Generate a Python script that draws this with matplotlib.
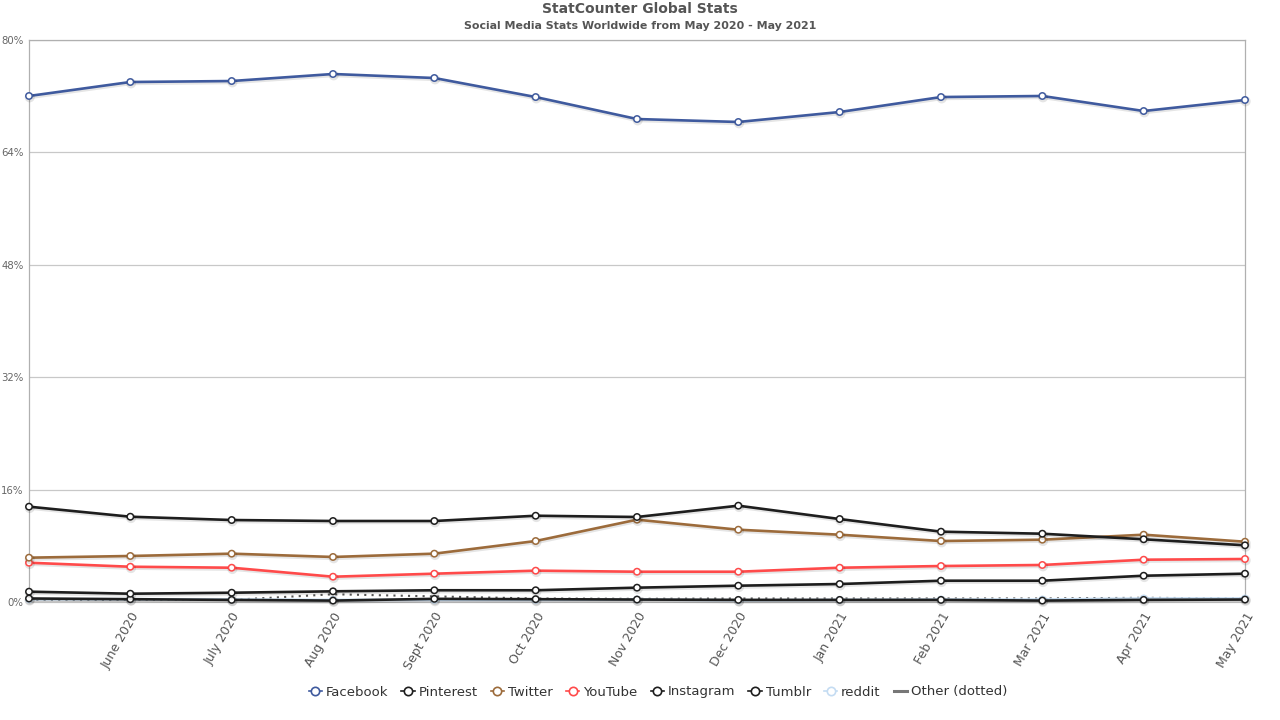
import matplotlib
matplotlib.use("Agg")
import matplotlib.pyplot as plt
import matplotlib.patheffects as pe
from matplotlib.ticker import FixedLocator

plt.rcParams["font.family"] = ["DejaVu Sans"]

months = ["May 2020", "June 2020", "July 2020", "Aug 2020", "Sept 2020", "Oct 2020",
          "Nov 2020", "Dec 2020", "Jan 2021", "Feb 2021", "Mar 2021", "Apr 2021", "May 2021"]

facebook = [72.03, 74.02, 74.16, 75.16, 74.59, 71.88, 68.75, 68.33, 69.75, 71.88, 72.03, 69.89, 71.46]
pinterest = [13.57, 12.14, 11.67, 11.53, 11.53, 12.28, 12.10, 13.71, 11.81, 10.01, 9.72, 8.93, 8.07]
twitter = [6.31, 6.55, 6.88, 6.41, 6.88, 8.68, 11.72, 10.29, 9.58, 8.68, 8.87, 9.58, 8.58]
youtube = [5.59, 5.02, 4.88, 3.60, 4.03, 4.46, 4.31, 4.31, 4.88, 5.12, 5.27, 6.02, 6.12]
instagram = [1.47, 1.18, 1.32, 1.52, 1.67, 1.67, 2.04, 2.32, 2.56, 3.03, 3.03, 3.74, 4.03]
tumblr = [0.50, 0.40, 0.30, 0.20, 0.45, 0.40, 0.35, 0.30, 0.30, 0.30, 0.20, 0.30, 0.35]
reddit = [0.40, 0.40, 0.35, 0.30, 0.30, 0.30, 0.35, 0.25, 0.30, 0.35, 0.35, 0.50, 0.50]
other = [0.30, 0.30, 0.30, 1.10, 0.80, 0.50, 0.45, 0.50, 0.50, 0.50, 0.50, 0.60, 0.50]

yticks = [0, 16, 32, 48, 64, 80]

series = [
    ("Facebook", facebook, "#3f5a9e"),
    ("Pinterest", pinterest, "#1e1e1e"),
    ("Twitter", twitter, "#9c6b3b"),
    ("YouTube", youtube, "#ff4a4a"),
    ("Instagram", instagram, "#1e1e1e"),
    ("Tumblr", tumblr, "#1e1e1e"),
    ("reddit", reddit, "#c4dcf2"),
]

fig = plt.figure(figsize=(12.8, 7.2), dpi=100)
ax = fig.add_axes([29/1280, 1-602/720, (1245-29)/1280, (602-40)/720])

x = list(range(len(months)))
shadow = [pe.SimpleLineShadow(offset=(0.5, -1.0), shadow_color="#000000", alpha=0.10, linewidth=2.6), pe.Normal()]

ax.plot(x, other, color="#555555", linestyle=(0, (1, 2.5)), linewidth=1.5, zorder=3)
for name, vals, col in reversed(series):
    ax.plot(x, vals, color=col, linewidth=1.9, marker="o", markersize=4.6,
            markerfacecolor="white", markeredgecolor=col, markeredgewidth=1.1,
            zorder=4, path_effects=shadow, clip_on=False)

leg_handles = []
for name, vals, col in series:
    h, = ax.plot([], [], color=col, linewidth=1.2, marker="o", markersize=6,
                 markerfacecolor="white", markeredgecolor=col, markeredgewidth=1.2, label=name)
    leg_handles.append(h)
h_o, = ax.plot([], [], color="#777777", linewidth=2.2, label="Other (dotted)")
leg_handles.append(h_o)

ax.set_xlim(0, len(months) - 1)
ax.set_ylim(0, 80)
ax.yaxis.set_major_locator(FixedLocator(yticks))
ax.set_yticklabels([f"{t}%" for t in yticks])
ax.grid(axis="y", color="#c8c8c8", linewidth=0.9)
ax.set_axisbelow(True)

ax.set_xticks(x[1:])
ax.set_xticklabels(months[1:], rotation=60, ha="right", rotation_mode="anchor",
                   fontsize=9, color="#555555")
ax.tick_params(axis="x", length=0, pad=6)
ax.tick_params(axis="y", length=0, pad=4, labelsize=7.3, labelcolor="#666666")

for s in ["left", "right", "top"]:
    ax.spines[s].set_color("#b0b0b0")
    ax.spines[s].set_linewidth(0.9)
ax.spines["bottom"].set_color("#c8c8c8")
ax.spines["bottom"].set_linewidth(0.9)

fig.text(0.5, 1-9/720, "StatCounter Global Stats", ha="center", va="center",
         fontsize=10, fontweight="bold", color="#555555")
fig.text(0.5, 1-26/720, "Social Media Stats Worldwide from May 2020 - May 2021", ha="center",
         va="center", fontsize=7.9, fontweight="bold", color="#555555")

leg = fig.legend(handles=leg_handles, loc="center", bbox_to_anchor=(658/1280, 1-692/720), ncol=8,
                 frameon=False, fontsize=9.5, handlelength=1.0, handletextpad=0.3,
                 columnspacing=1.0)
for t in leg.get_texts():
    t.set_color("#333333")

fig.savefig("out.png", dpi=100)
